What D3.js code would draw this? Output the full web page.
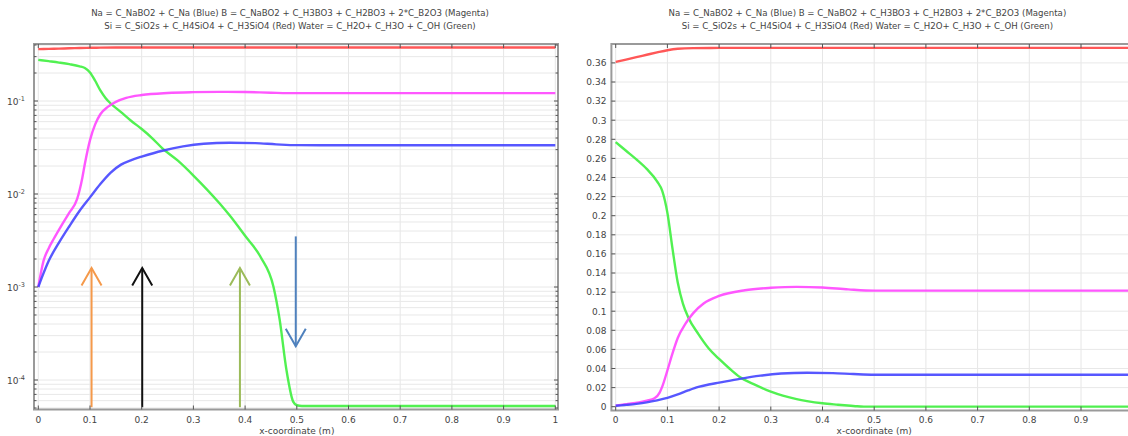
<!DOCTYPE html>
<html>
<head>
<meta charset="utf-8">
<script src="https://cdn.jsdelivr.net/npm/d3@7"></script>
<style>
  body { margin: 0; background: #fff; }
  text { font-family: "DejaVu Sans", sans-serif; fill: #444; }
</style>
</head>
<body>
<div id="chart"></div>
<script>
// chart data

const titleLines = [
  "Na = C_NaBO2 + C_Na (Blue) B = C_NaBO2 + C_H3BO3 + C_H2BO3 + 2*C_B2O3 (Magenta)",
  "Si = C_SiO2s + C_H4SiO4 + C_H3SiO4 (Red) Water = C_H2O+ C_H3O + C_OH (Green)"
];
const xLabel = "x-coordinate (m)";

const xTicks = [0, 0.1, 0.2, 0.3, 0.4, 0.5, 0.6, 0.7, 0.8, 0.9, 1];
const linTicks = d3.range(0, 0.3601, 0.02).map(v => +v.toFixed(2));
const logDecades = [-5, -4, -3, -2, -1, 0];

// [x, concentration]
const silicon = [[0,0.361],[0.02,0.3635],[0.04,0.366],[0.06,0.3685],[0.08,0.371],[0.1,0.3733],
  [0.12,0.3748],[0.15,0.3755],[0.2,0.3757],[0.4,0.3757],[0.6,0.3757],[0.8,0.3757],[1,0.3757]];
const water = [[0,0.277],[0.02,0.268],[0.04,0.259],[0.06,0.249],[0.08,0.236],[0.09,0.226],[0.1,0.203],
  [0.11,0.165],[0.12,0.130],[0.13,0.108],[0.14,0.094],[0.16,0.076],[0.18,0.061],[0.2,0.050],
  [0.22,0.040],[0.24,0.031],[0.27,0.0228],[0.3,0.0158],[0.35,0.0080],[0.37,0.0059],[0.4,0.00355],
  [0.43,0.0021],[0.455,0.00100],[0.467,0.00044],[0.48,0.000128],[0.493,0.0000585],[0.5,0.0000535],
  [0.51,0.0000525],[0.7,0.0000525],[1,0.0000525]];
const boron = [[0,0.001],[0.01,0.0019],[0.02,0.0026],[0.03,0.0033],[0.045,0.0046],[0.06,0.0063],
  [0.075,0.0088],[0.085,0.0148],[0.09,0.021],[0.1,0.038],[0.11,0.056],[0.12,0.072],[0.135,0.087],
  [0.15,0.098],[0.17,0.108],[0.2,0.116],[0.25,0.122],[0.3,0.1245],[0.35,0.1255],[0.4,0.1248],
  [0.45,0.1228],[0.5,0.1215],[0.6,0.1215],[0.8,0.1215],[1,0.1215]];
const sodium = [[0,0.001],[0.01,0.0014],[0.02,0.0019],[0.04,0.003],[0.06,0.0045],[0.08,0.0066],
  [0.1,0.0092],[0.12,0.0128],[0.14,0.0170],[0.16,0.0207],[0.18,0.0232],[0.2,0.0252],[0.24,0.0292],
  [0.28,0.0325],[0.32,0.0347],[0.37,0.0356],[0.42,0.0352],[0.46,0.0342],[0.5,0.0335],[0.6,0.0334],
  [0.8,0.0334],[1,0.0334]];

const seriesList = [
  {data: silicon, color: "#ff4545"},
  {data: water, color: "#3ef03e"},
  {data: boron, color: "#ff45ff"},
  {data: sodium, color: "#4545ff"}
];

// annotation arrows on the log plot: x, tail value, head value
const arrowX = [0.103, 0.201, 0.39, 0.498];
const arrowTail = [5.1e-5, 5.1e-5, 5.1e-5, 3.5e-3];
const arrowHead = [1.6e-3, 1.6e-3, 1.6e-3, 2.3e-4];
const arrowColors = ["#f5994a", "#111111", "#9bbb59", "#4f81bd"];

// layout
const W = 1128, H = 436;
const svg = d3.select("#chart").append("svg").attr("width", W).attr("height", H);

const frameTop = 44, frameBottom = 409.5;

function drawPanel(offsetX, isLog) {
  const g = svg.append("g").attr("transform", `translate(${offsetX},0)`);
  const x = d3.scaleLinear().domain([0, 1]).range([38.3, 555.3]);
  const frameL = 34, frameR = 558;
  let y;
  if (isLog) y = d3.scaleLog().domain([1e-4, 1e-1]).range([380, 101]);
  else y = d3.scaleLinear().domain([0, 0.36]).range([406.7, 62.9]);
  const fb = isLog ? frameBottom : 410.5;

  // grid
  const grid = g.append("g");
  xTicks.forEach(t => {
    grid.append("line").attr("x1", x(t)).attr("x2", x(t)).attr("y1", frameTop).attr("y2", fb)
      .attr("stroke", "#e6e6e6");
  });
  const yGrid = [];
  const yMajor = [];
  if (isLog) {
    logDecades.forEach(d => {
      for (let m = 1; m <= 9; m++) {
        const v = m * Math.pow(10, d);
        const py = y(v);
        if (py > frameTop && py < fb) { yGrid.push(py); if (m === 1) yMajor.push([py, d]); }
      }
    });
  } else {
    linTicks.forEach(v => { yGrid.push(y(v)); yMajor.push([y(v), v]); });
  }
  yGrid.forEach(py => {
    grid.append("line").attr("x1", frameL).attr("x2", frameR).attr("y1", py).attr("y2", py)
      .attr("stroke", "#e8e8e8");
  });

  // curves
  const line = d3.line()
    .x(d => x(d[0]))
    .y(d => y(d[1]))
    .curve(d3.curveMonotoneX);
  seriesList.forEach(s => {
    g.append("path").attr("d", line(s.data)).attr("fill", "none")
      .attr("stroke", s.color).attr("stroke-width", 2.4).attr("stroke-opacity", 0.9);
  });

  // arrows
  if (isLog) {
    arrowX.forEach((ax, i) => {
      const px = x(ax), y0 = y(arrowTail[i]), y1 = y(arrowHead[i]);
      const dir = y1 < y0 ? 1 : -1;
      const c = arrowColors[i];
      g.append("line").attr("x1", px).attr("x2", px).attr("y1", y0).attr("y2", y1)
        .attr("stroke", c).attr("stroke-width", 2);
      g.append("path")
        .attr("d", `M${px - 10},${y1 + dir * 17.5}L${px},${y1}L${px + 10},${y1 + dir * 17.5}`)
        .attr("fill", "none").attr("stroke", c).attr("stroke-width", 2);
    });
  }

  // frame
  g.append("rect").attr("x", frameL).attr("y", frameTop)
    .attr("width", frameR - frameL).attr("height", fb - frameTop)
    .attr("fill", "none").attr("stroke", "#9a9a9a").attr("stroke-width", 2);

  // ticks
  const ticks = g.append("g").attr("stroke", "#555").attr("stroke-width", 1);
  xTicks.forEach(t => {
    ticks.append("line").attr("x1", x(t)).attr("x2", x(t)).attr("y1", frameTop).attr("y2", frameTop + 4);
    ticks.append("line").attr("x1", x(t)).attr("x2", x(t)).attr("y1", fb).attr("y2", fb - 4);
  });
  yGrid.forEach(py => {
    const isMaj = yMajor.some(m => m[0] === py);
    const len = isMaj || !isLog ? 4 : 2.5;
    ticks.append("line").attr("x1", frameL).attr("x2", frameL + len).attr("y1", py).attr("y2", py);
    ticks.append("line").attr("x1", frameR).attr("x2", frameR - len).attr("y1", py).attr("y2", py);
  });

  // tick labels (only those that fall inside the window)
  xTicks.filter(t => offsetX + x(t) + 4 < W).forEach(t => {
    g.append("text").attr("x", x(t)).attr("y", 423).attr("text-anchor", "middle")
      .attr("font-size", 9).text(d3.format("~g")(t));
  });
  yMajor.forEach(([py, v]) => {
    if (isLog) {
      const t = g.append("text").attr("x", 25).attr("y", py + 3.5).attr("text-anchor", "end")
        .attr("font-size", 9);
      t.append("tspan").text("10");
      t.append("tspan").attr("dy", -4).attr("font-size", 6.5).text(v);
    } else {
      g.append("text").attr("x", frameL - 5).attr("y", py + 3.3).attr("text-anchor", "end")
        .attr("font-size", 9).text(String(v));
    }
  });

  g.append("text").attr("x", (x(0) + x(1)) / 2).attr("y", 434).attr("text-anchor", "middle")
    .attr("font-size", 9).text(xLabel);

  // titles
  titleLines.forEach((tl, i) => {
    g.append("text").attr("x", 290).attr("y", 16 + i * 13).attr("text-anchor", "middle")
      .attr("font-size", 8.6).attr("fill", "#333").text(tl);
  });
}

drawPanel(0, true);
drawPanel(577.4, false);
</script>
</body>
</html>
